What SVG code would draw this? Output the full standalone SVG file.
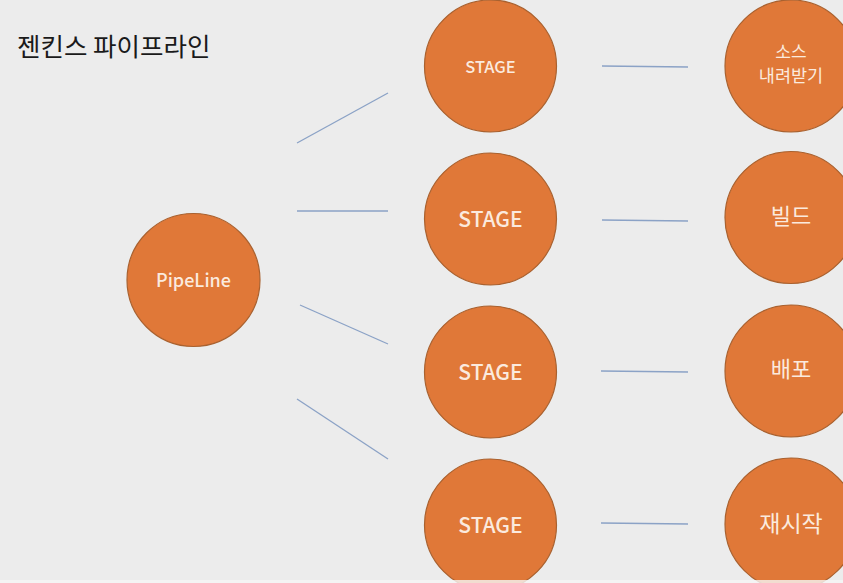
<svg xmlns="http://www.w3.org/2000/svg" width="843" height="583" viewBox="0 0 843 583">
<style>
.n{fill:#e07838;stroke:#a9612f;stroke-width:1.2}
.t{fill:#fbeade;font-family:"Noto Sans CJK KR","Noto Sans",sans-serif;font-weight:500;text-anchor:middle}
.k{font-weight:400}
.c line{stroke:#8ba2c6;stroke-width:1.3}
</style>
<rect width="843" height="583" fill="#ececec"/>
<text x="17" y="56" font-family="Noto Sans CJK KR, Noto Sans, sans-serif" font-size="25.5" fill="#1a1a1a">젠킨스 파이프라인</text>
<g class="c" id="connectors">
<line x1="297" y1="143" x2="388" y2="93"/>
<line x1="297" y1="211" x2="388" y2="211"/>
<line x1="300" y1="305" x2="388" y2="344"/>
<line x1="297" y1="399" x2="388" y2="459"/>
<line x1="602" y1="66" x2="688" y2="67"/>
<line x1="602" y1="220" x2="688" y2="221"/>
<line x1="601" y1="371" x2="688" y2="372"/>
<line x1="601" y1="523" x2="688" y2="524"/>
</g>
<g id="pipeline"><circle class="n" cx="193.5" cy="280" r="66.5"/><text class="t" x="193.5" y="287" font-size="18">PipeLine</text></g>
<g id="stage1"><circle class="n" cx="490.5" cy="66" r="66"/><text class="t" x="490.5" y="73" font-size="16.5">STAGE</text></g>
<g id="stage2"><circle class="n" cx="490.5" cy="219" r="66"/><text class="t" x="490.5" y="227" font-size="21">STAGE</text></g>
<g id="stage3"><circle class="n" cx="490.5" cy="372" r="66"/><text class="t" x="490.5" y="380" font-size="21">STAGE</text></g>
<g id="stage4"><circle class="n" cx="490.5" cy="525" r="66"/><text class="t" x="490.5" y="533" font-size="21">STAGE</text></g>
<g id="source"><circle class="n" cx="791" cy="66" r="66"/><text class="t k" x="791" y="57.5" font-size="17">소스</text><text class="t k" x="791" y="82" font-size="17.5">내려받기</text></g>
<g id="build"><circle class="n" cx="791" cy="217.5" r="66"/><text class="t k" x="791" y="224" font-size="22">빌드</text></g>
<g id="deploy"><circle class="n" cx="791" cy="371" r="66"/><text class="t k" x="791" y="377" font-size="22">배포</text></g>
<g id="restart"><circle class="n" cx="791" cy="524" r="66"/><text class="t k" x="791" y="532" font-size="23">재시작</text></g>
<rect x="0" y="580" width="843" height="3" fill="#f6f6f6" fill-opacity="0.8"/>
</svg>
